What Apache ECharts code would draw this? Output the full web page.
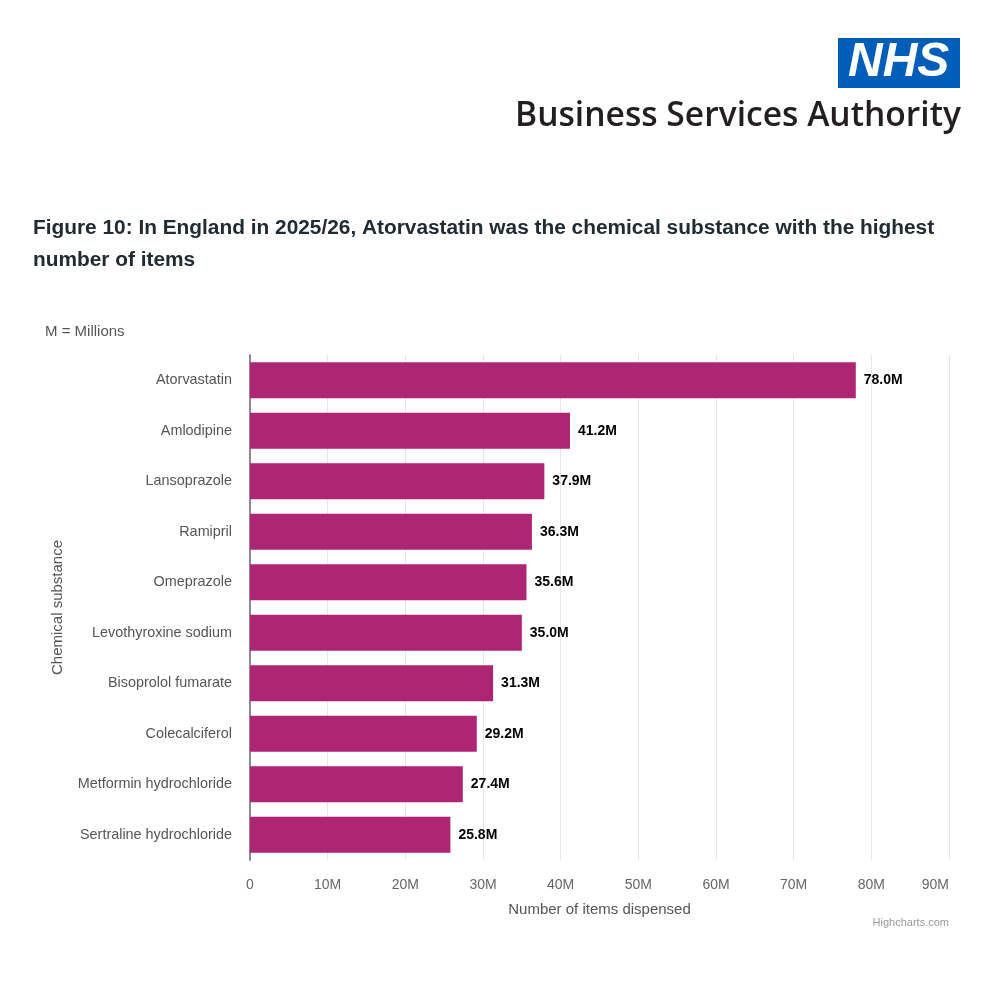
<!DOCTYPE html>
<html>
<head>
<meta charset="utf-8">
<script src="https://cdn.jsdelivr.net/npm/echarts@6/dist/echarts.min.js"></script>
<style>
html,body{margin:0;padding:0;background:#fff;}
#chart{width:1000px;height:1000px;}
</style>
</head>
<body>
<div id="chart"></div>
<script>
const categories = ["Atorvastatin","Amlodipine","Lansoprazole","Ramipril","Omeprazole","Levothyroxine sodium","Bisoprolol fumarate","Colecalciferol","Metformin hydrochloride","Sertraline hydrochloride"];
const itemsMillions = [78.0, 41.2, 37.9, 36.3, 35.6, 35.0, 31.3, 29.2, 27.4, 25.8];
const xTicks = [0, 10, 20, 30, 40, 50, 60, 70, 80, 90];

const chart = echarts.init(document.getElementById('chart'));
const font = 'Liberation Sans, Arial, sans-serif';
chart.setOption({
  backgroundColor: '#ffffff',
  animation: false,
  textStyle: { fontFamily: font },
  graphic: [
    { type: 'rect', shape: { x: 838, y: 38, width: 122, height: 50 }, style: { fill: '#005EB8' } },
    { type: 'text', x: 848, y: 39, style: { text: 'NHS', fill: '#ffffff', font: 'italic bold 48px "Liberation Sans", Arial, sans-serif' } },
    { type: 'text', x: 515, y: 99, originX: 0, scaleX: 0.96,
      style: { text: 'Business Services Authority', fill: '#231f20', font: '600 35px "Open Sans", sans-serif' } },
    { type: 'text', left: 33, top: 218, style: { text: 'Figure 10: In England in 2025/26, Atorvastatin was the chemical substance with the highest', fill: '#212b32', font: 'bold 20.85px "Liberation Sans", Arial, sans-serif' } },
    { type: 'text', left: 33, top: 250, style: { text: 'number of items', fill: '#212b32', font: 'bold 20.85px "Liberation Sans", Arial, sans-serif' } },
    { type: 'text', left: 45, top: 324, style: { text: 'M = Millions', fill: '#555555', font: '15px "Liberation Sans", Arial, sans-serif' } },
    { type: 'text', right: 51, top: 917, style: { text: 'Highcharts.com', fill: '#999999', font: '11px "Liberation Sans", Arial, sans-serif' } }
  ],
  grid: { left: 250, right: 51, top: 355, bottom: 140, containLabel: false },
  xAxis: {
    type: 'value',
    min: 0, max: 90, interval: 10,
    name: 'Number of items dispensed',
    nameLocation: 'middle',
    nameGap: 42,
    nameTextStyle: { color: '#555555', fontSize: 15, fontFamily: font },
    axisLine: { show: false },
    axisTick: { show: false },
    axisLabel: { color: '#666666', fontSize: 14, margin: 18, fontFamily: font, alignMaxLabel: 'right',
      formatter: v => (xTicks.indexOf(v) >= 0 ? (v === 0 ? '0' : v + 'M') : '') },
    splitLine: { show: true, lineStyle: { color: '#e6e6e6', width: 1 } }
  },
  yAxis: {
    type: 'category',
    data: categories,
    inverse: true,
    name: 'Chemical substance',
    nameLocation: 'middle',
    nameGap: 185,
    nameRotate: 90,
    nameTextStyle: { color: '#555555', fontSize: 15, fontFamily: font },
    axisLine: { show: true, lineStyle: { color: '#8a8a99', width: 2 } },
    axisTick: { show: false },
    axisLabel: { color: '#555555', fontSize: 14.4, margin: 18, fontFamily: font },
    splitLine: { show: false }
  },
  series: [{
    type: 'bar',
    data: itemsMillions,
    barWidth: 36,
    itemStyle: { color: '#ae2573' },
    label: {
      show: true, position: 'right', distance: 8,
      color: '#000000', fontWeight: 'bold', fontSize: 14, fontFamily: font,
      formatter: p => p.value.toFixed(1) + 'M'
    }
  }]
});
</script>
</body>
</html>
